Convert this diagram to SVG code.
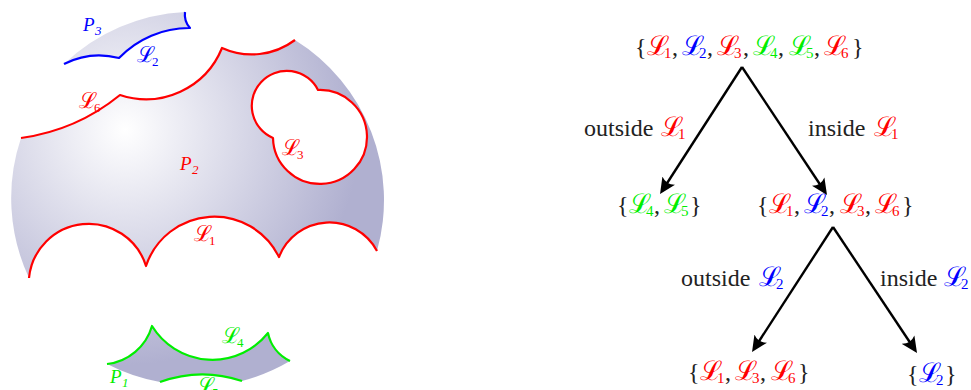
<svg xmlns="http://www.w3.org/2000/svg" width="971" height="390" viewBox="0 0 971 390">
<defs>
<radialGradient id="disk" gradientUnits="userSpaceOnUse" cx="125" cy="130" r="235">
<stop offset="0" stop-color="#ffffff"/>
<stop offset="1" stop-color="#b0b0d0"/>
</radialGradient>
<marker id="arr" markerUnits="userSpaceOnUse" viewBox="0 -8 17 16" refX="10" refY="0" markerWidth="17" markerHeight="16" orient="auto">
<path d="M16,0 L0,-7.5 Q5,0 0,7.5 Z" fill="#000"/>
</marker>
<style>
.region{fill:url(#disk);stroke:none;fill-rule:evenodd}
.edge{fill:none;stroke-width:2.2;stroke-linejoin:round}
.red{fill:#ff0000}.blue{fill:#0000ff}.green{fill:#00ee00}
.sr{stroke:#ff0000}.sb{stroke:#0000ff}.sg{stroke:#00ee00}
.lbl{font-family:"Liberation Serif",serif;font-size:19px}
.lbl .cal{font-size:22px}
.it{font-style:italic}
.cal{font-family:"DejaVu Serif",serif;font-style:normal}
.sub{font-size:13px}
.big{font-family:"Liberation Serif",serif;font-size:24px;fill:#222}
.big .cal{font-size:27px}
.bsub{font-size:15px}
.conn{fill:none;stroke:#000;stroke-width:2.4;marker-end:url(#arr)}
</style>
</defs>

<g id="P2">
<path class="region" d="M21,138 A200,200 0 0 0 120,95 A82,82 0 0 0 222,48 A72,72 0 0 0 295,40 A188.5,188.5 0 0 1 377,251 A54,54 0 0 0 279,257 A72,72 0 0 0 146,266 A60,60 0 0 0 29,278 A188.5,188.5 0 0 1 21,138 Z M318,90 A35,35 0 1 0 273,138 A47,47 0 1 0 318,90 Z"/>
<path class="edge sr" d="M21,138 A200,200 0 0 0 120,95 A82,82 0 0 0 222,48 A72,72 0 0 0 295,40"/>
<path class="edge sr" d="M29,278 A60,60 0 0 1 146,266 A72,72 0 0 1 279,257 A54,54 0 0 1 377,251"/>
<path class="edge sr" d="M318,90 A35,35 0 1 0 273,138 A47,47 0 1 0 318,90 Z"/>
<text class="lbl red it" x="180" y="170">P<tspan class="sub" x="192" y="174">2</tspan></text>
<text class="lbl red" x="79" y="108"><tspan class="cal">ℒ</tspan><tspan class="sub" x="94" y="112">6</tspan></text>
<text class="lbl red" x="282" y="155"><tspan class="cal">ℒ</tspan><tspan class="sub" x="297" y="159">3</tspan></text>
<text class="lbl red" x="194" y="241"><tspan class="cal">ℒ</tspan><tspan class="sub" x="209" y="245">1</tspan></text>
</g>

<g id="P3">
<path class="region" d="M64,64 A78,78 0 0 1 119,58 A97,97 0 0 1 190,28 A20,20 0 0 1 185,12 A188.5,188.5 0 0 0 64,64 Z"/>
<path class="edge sb" d="M64,64 A78,78 0 0 1 119,58 A97,97 0 0 1 190,28 A20,20 0 0 1 185,12"/>
<text class="lbl blue it" x="83" y="31">P<tspan class="sub" x="95" y="35">3</tspan></text>
<text class="lbl blue" x="137" y="62"><tspan class="cal">ℒ</tspan><tspan class="sub" x="152" y="66">2</tspan></text>
</g>

<g id="P1">
<path class="region" d="M107,364 A53,53 0 0 0 152,326 A71,71 0 0 0 268,333 A40,40 0 0 0 290,361 A188.5,188.5 0 0 1 242,381 A124,124 0 0 0 160,382 A188.5,188.5 0 0 1 107,364 Z"/>
<path class="edge sg" d="M107,364 A53,53 0 0 0 152,326 A71,71 0 0 0 268,333 A40,40 0 0 0 290,361"/>
<path class="edge sg" d="M160,382 A124,124 0 0 1 242,381"/>
<text class="lbl green" x="222" y="343"><tspan class="cal">ℒ</tspan><tspan class="sub" x="237" y="347">4</tspan></text>
<text class="lbl green it" x="110" y="383">P<tspan class="sub" x="122" y="387">1</tspan></text>
<text class="lbl green" x="197" y="393"><tspan class="cal">ℒ</tspan><tspan class="sub" x="212" y="397">5</tspan></text>
</g>

<g id="connectors">
<path id="c1" class="conn" d="M742,67 L663.3,189"/>
<path id="c2" class="conn" d="M742,67 L823.7,190"/>
<path id="c3" class="conn" d="M833,227 L755.3,347"/>
<path id="c4" class="conn" d="M833,227 L913.7,348"/>
<text class="big" x="584" y="136">outside <tspan class="cal red" x="661">ℒ</tspan><tspan class="bsub red" x="678" y="139">1</tspan></text>
<text class="big" x="808" y="136">inside <tspan class="cal red" x="874">ℒ</tspan><tspan class="bsub red" x="891" y="139">1</tspan></text>
<text class="big" x="681" y="286">outside <tspan class="cal blue" x="759">ℒ</tspan><tspan class="bsub blue" x="776" y="289">2</tspan></text>
<text class="big" x="880" y="286">inside <tspan class="cal blue" x="944">ℒ</tspan><tspan class="bsub blue" x="961" y="289">2</tspan></text>
</g>

<g id="root">
<text class="big" y="55"><tspan x="635">{</tspan><tspan class="cal red" x="647">ℒ</tspan><tspan class="bsub red" x="664" y="58">1</tspan><tspan x="672" y="55">,</tspan><tspan class="cal blue" x="682">ℒ</tspan><tspan class="bsub blue" x="699" y="58">2</tspan><tspan x="707" y="55">,</tspan><tspan class="cal red" x="717">ℒ</tspan><tspan class="bsub red" x="734" y="58">3</tspan><tspan x="743" y="55">,</tspan><tspan class="cal green" x="753">ℒ</tspan><tspan class="bsub green" x="770" y="58">4</tspan><tspan x="778" y="55">,</tspan><tspan class="cal green" x="789">ℒ</tspan><tspan class="bsub green" x="806" y="58">5</tspan><tspan x="814" y="55">,</tspan><tspan class="cal red" x="824">ℒ</tspan><tspan class="bsub red" x="841" y="58">6</tspan><tspan x="852" y="55">}</tspan></text>
</g>

<g id="outside1">
<text class="big" y="213"><tspan x="617">{</tspan><tspan class="cal green" x="629">ℒ</tspan><tspan class="bsub green" x="646" y="216">4</tspan><tspan x="654" y="213">,</tspan><tspan class="cal green" x="664">ℒ</tspan><tspan class="bsub green" x="681" y="216">5</tspan><tspan x="690" y="213">}</tspan></text>
</g>

<g id="inside1">
<text class="big" y="213"><tspan x="757">{</tspan><tspan class="cal red" x="769">ℒ</tspan><tspan class="bsub red" x="786" y="216">1</tspan><tspan x="794" y="213">,</tspan><tspan class="cal blue" x="804">ℒ</tspan><tspan class="bsub blue" x="821" y="216">2</tspan><tspan x="829" y="213">,</tspan><tspan class="cal red" x="840">ℒ</tspan><tspan class="bsub red" x="857" y="216">3</tspan><tspan x="865" y="213">,</tspan><tspan class="cal red" x="875">ℒ</tspan><tspan class="bsub red" x="892" y="216">6</tspan><tspan x="902" y="213">}</tspan></text>
</g>

<g id="outside2">
<text class="big" y="380"><tspan x="688">{</tspan><tspan class="cal red" x="700">ℒ</tspan><tspan class="bsub red" x="717" y="383">1</tspan><tspan x="725" y="380">,</tspan><tspan class="cal red" x="735">ℒ</tspan><tspan class="bsub red" x="752" y="383">3</tspan><tspan x="760" y="380">,</tspan><tspan class="cal red" x="771">ℒ</tspan><tspan class="bsub red" x="788" y="383">6</tspan><tspan x="798" y="380">}</tspan></text>
</g>

<g id="inside2">
<text class="big" y="382"><tspan x="907">{</tspan><tspan class="cal blue" x="919">ℒ</tspan><tspan class="bsub blue" x="936" y="385">2</tspan><tspan x="945" y="382">}</tspan></text>
</g>
</svg>
